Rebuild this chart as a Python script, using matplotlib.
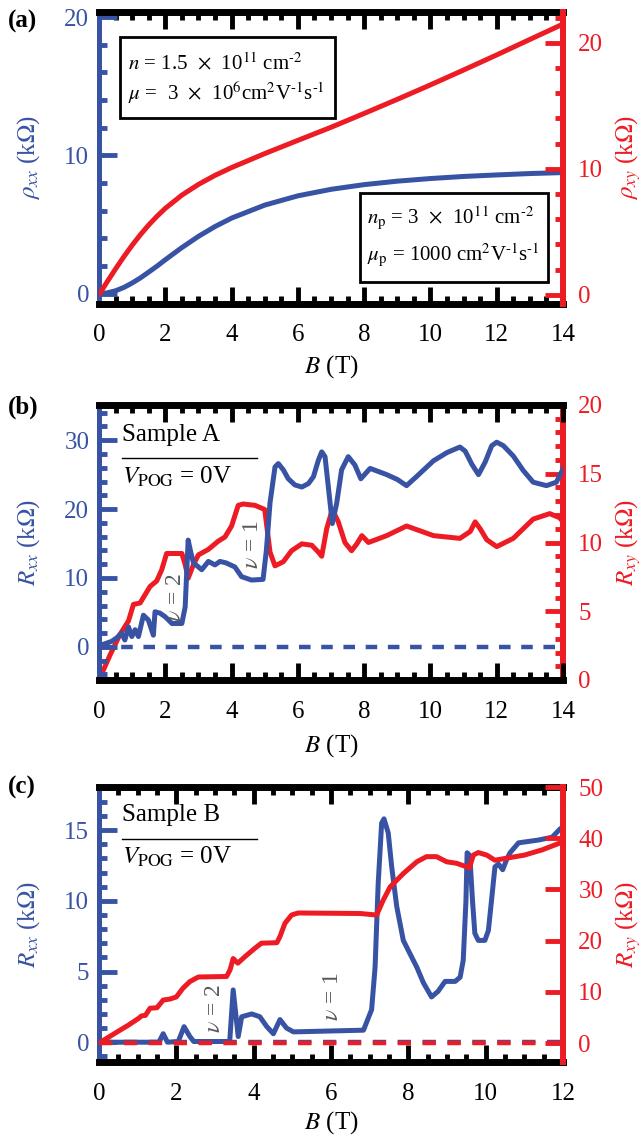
import matplotlib
matplotlib.use("Agg")
import matplotlib.pyplot as plt
from matplotlib.ticker import MultipleLocator, NullLocator
from matplotlib.patches import Rectangle
from matplotlib.lines import Line2D

plt.rcParams['font.family'] = ['Liberation Serif', 'DejaVu Serif']
plt.rcParams['mathtext.fontset'] = 'stix'

BLUE = '#3953a4'
RED = '#ed1c24'
GRAY = '#5a5a5a'

# ---------------- data ----------------
# (a) two-carrier curves
B_a = [0, 0.25, 0.5, 0.75, 1, 1.25, 1.5, 1.75, 2, 2.5, 3, 3.5, 4, 5, 6, 7, 8, 9, 10, 11, 12, 13, 14]
rhoxx_a = [0, 0.07, 0.22, 0.46, 0.78, 1.15, 1.57, 2.0, 2.46, 3.34, 4.15, 4.86, 5.47, 6.41, 7.08,
           7.55, 7.89, 8.14, 8.33, 8.48, 8.59, 8.69, 8.76]
rhoxy_a = [0, 1.04, 2.05, 3.02, 3.93, 4.77, 5.54, 6.23, 6.86, 7.91, 8.76, 9.48, 10.1, 11.21, 12.26,
           13.3, 14.4, 15.52, 16.67, 17.85, 19.05, 20.28, 21.5]

# (b) Sample A
B_b_xx = [0, 0.08, 0.38, 0.53, 0.68, 0.78, 0.89, 0.99, 1.09, 1.19, 1.34, 1.49, 1.64, 1.69, 1.84,
          1.99, 2.14, 2.2, 2.5, 2.6, 2.69, 2.78, 2.85, 3.1, 3.3, 3.5, 3.65, 3.83, 4.1, 4.3, 4.6,
          4.95, 5.05, 5.16, 5.31, 5.41, 5.56, 5.71, 5.91, 6.12, 6.32, 6.47, 6.62, 6.72, 6.82,
          6.92, 7.04, 7.17, 7.32, 7.52, 7.72, 7.9, 8.18, 8.68, 9.0, 9.28, 9.6, 10.09, 10.5,
          10.89, 11.05, 11.25, 11.45, 11.65, 11.85, 12.0, 12.2, 12.5, 12.8, 13.1, 13.5, 13.8, 14.0]
Rxx_b = [0, 0.3, 0.8, 1.3, 2.0, 1.0, 2.9, 1.5, 2.5, 1.5, 4.6, 3.9, 1.7, 5.1, 4.9,
         4.4, 3.7, 3.4, 3.4, 5.8, 15.5, 13.5, 12.2, 11.2, 12.4, 11.9, 12.4, 12.2, 11.6, 10.2, 9.7,
         9.8, 14.0, 20.9, 26.1, 26.6, 25.7, 24.4, 23.5, 23.2, 23.7, 24.7, 27.1, 28.3, 27.6,
         23.2, 17.9, 20.8, 25.7, 27.6, 26.4, 24.4, 25.9, 25.0, 24.3, 23.4, 24.8, 27.0, 28.2,
         29.0, 28.4, 26.5, 25.0, 26.8, 29.2, 29.7, 29.2, 27.7, 25.6, 23.9, 23.4, 23.9, 25.8]
B_b_xy = [0, 0.33, 0.63, 0.89, 1.04, 1.24, 1.39, 1.54, 1.74, 1.89, 2.04, 2.5, 2.6, 2.69, 2.85,
          3.0, 3.3, 3.6, 3.8, 4.0, 4.2, 4.35, 4.71, 5.0, 5.16, 5.31, 5.56, 5.81, 6.12, 6.42,
          6.62, 6.72, 6.87, 7.04, 7.22, 7.42, 7.62, 7.78, 7.93, 8.13, 8.68, 9.28, 10.09, 10.89,
          11.2, 11.35, 11.5, 11.7, 12.0, 12.5, 13.1, 13.6, 13.9, 14.0]
Rxy_b = [0, 1.8, 3.3, 4.3, 5.5, 5.6, 6.2, 6.8, 7.2, 8.0, 9.2, 9.2, 8.4, 7.4, 8.4,
         9.1, 9.5, 10.1, 10.4, 11.2, 12.7, 12.8, 12.7, 12.4, 9.3, 8.3, 8.6, 9.4, 9.9, 9.8,
         9.3, 9.0, 11.0, 12.4, 11.5, 10.0, 9.4, 9.9, 10.5, 10.0, 10.5, 11.2, 10.5, 10.3,
         10.8, 11.5, 11.0, 10.2, 9.7, 10.3, 11.7, 12.1, 11.8, 11.5]

# (c) Sample B
B_c_xx = [0, 1.55, 1.66, 1.77, 2.05, 2.2, 2.35, 2.45, 3.38, 3.47, 3.6, 3.69, 3.95, 4.16, 4.34,
          4.51, 4.68, 4.85, 5.03, 6.84, 7.05, 7.14, 7.22, 7.31, 7.37, 7.48, 7.57, 7.7, 7.87,
          8.09, 8.22, 8.39, 8.6, 8.77, 8.95, 9.21, 9.34, 9.42, 9.49, 9.52, 9.59, 9.66, 9.72,
          9.81, 9.98, 10.07, 10.15, 10.24, 10.33, 10.44, 10.54, 10.63, 10.85, 11.37, 11.72,
          11.93, 12.0]
Rxx_c = [0, 0.0, 0.6, 0.0, 0.05, 1.1, 0.4, 0.05, 0.05, 3.7, 0.4, 1.8, 2.0, 1.8, 1.1,
         0.6, 1.6, 1.0, 0.73, 0.85, 2.3, 5.3, 11.2, 15.5, 15.8, 14.8, 12.4, 9.6, 7.2,
         6.0, 5.3, 4.2, 3.2, 3.6, 4.3, 4.3, 4.6, 5.8, 10.0, 13.4, 13.2, 10.0, 7.7,
         7.2, 7.2, 7.9, 10.0, 12.4, 12.6, 12.2, 12.9, 13.4, 14.1, 14.3, 14.5,
         15.1, 15.2]
B_c_xy = [0, 0.41, 0.76, 1.02, 1.1, 1.2, 1.32, 1.5, 1.66, 1.84, 2.0, 2.17, 2.35, 2.57, 3.3,
          3.39, 3.47, 3.59, 3.78, 4.03, 4.2, 4.6, 4.68, 4.81, 4.98, 5.15, 6.75, 7.18, 7.35,
          7.53, 7.87, 8.22, 8.47, 8.73, 8.99, 9.25, 9.51, 9.58, 9.68, 9.81, 10.03, 10.24,
          10.54, 11.0, 11.45, 11.9, 12.0]
Rxy_c = [0, 1.9, 3.5, 4.8, 5.3, 5.4, 6.8, 6.9, 8.4, 8.6, 9.0, 10.7, 12.0, 12.9, 13.0,
         14.3, 16.5, 15.6, 16.9, 18.5, 19.5, 19.6, 20.8, 23.4, 25.0, 25.4, 25.3, 25.0, 27.9,
         30.5, 33.1, 35.4, 36.4, 36.4, 35.4, 35.1, 34.4, 34.2, 36.7, 37.2, 36.7, 35.7,
         36.1, 36.7, 37.7, 39.0, 39.2]

zero_b = [0, 14]
zero_c = [0, 12]

# ---------------- figure ----------------
W, H = 644, 1143
fig = plt.figure(figsize=(W / 100, H / 100), dpi=100)


def axes_px(left, top, right, bottom):
    return fig.add_axes([left / W, 1 - bottom / H, (right - left) / W, (bottom - top) / H])


LW = 3.6
FS = 18


def style(ax, ax2, xmax, ylim_l, lmaj, lmin, ylim_r, rmaj, rmin):
    ax.set_xlim(0, xmax)
    ax.set_ylim(*ylim_l)
    ax2.set_ylim(*ylim_r)
    ax.xaxis.set_major_locator(MultipleLocator(2))
    ax.xaxis.set_minor_locator(MultipleLocator(0.5))
    ax.yaxis.set_major_locator(MultipleLocator(lmaj))
    ax.yaxis.set_minor_locator(MultipleLocator(lmin))
    ax2.yaxis.set_major_locator(MultipleLocator(rmaj))
    if rmin:
        ax2.yaxis.set_minor_locator(MultipleLocator(rmin))
    else:
        ax2.yaxis.set_minor_locator(NullLocator())
    ax.tick_params(axis='x', which='major', direction='in', length=12, width=3.5,
                   top=True, bottom=True, labelsize=FS, pad=15, color='black')
    ax.tick_params(axis='x', which='minor', direction='in', length=6, width=3.5,
                   top=True, bottom=True, color='black')
    ax.tick_params(axis='y', which='major', direction='in', length=13, width=3.5,
                   left=True, right=False, colors=BLUE, labelsize=FS, pad=7)
    ax.tick_params(axis='y', which='minor', direction='in', length=6, width=3.5,
                   left=True, right=False, colors=BLUE)
    ax2.tick_params(axis='y', which='major', direction='in', length=13, width=3.5,
                    right=True, left=False, colors=RED, labelsize=FS, pad=11)
    ax2.tick_params(axis='y', which='minor', direction='in', length=6, width=3.5,
                    right=True, left=False, colors=RED)
    for s in ('top', 'bottom'):
        ax.spines[s].set_linewidth(5)
        ax.spines[s].set_color('black')
        ax2.spines[s].set_visible(False)
    ax.spines['right'].set_visible(False)
    ax.spines['left'].set_color(BLUE)
    ax.spines['left'].set_linewidth(3.6)
    ax2.spines['left'].set_visible(False)
    ax2.spines['right'].set_color(RED)
    ax2.spines['right'].set_linewidth(4.3)
    ax.set_xlabel(r'$B$ (T)', fontsize=FS)


def ylabels(ax, ax2, left_txt, right_txt):
    ax.set_ylabel(left_txt, color=BLUE, fontsize=FS)
    ax2.set_ylabel(right_txt, color=RED, fontsize=FS, rotation=90)
    ax.yaxis.set_label_coords(-0.123, 0.5)
    ax2.yaxis.set_label_coords(1.108, 0.5)


# ---------- (a) ----------
axa = axes_px(99, 11.5, 563, 303.5)
axa2 = axa.twinx()
style(axa, axa2, 14, (-0.7, 20.4), 10, 2, (-0.7, 22.5), 10, 2)
axa.plot(B_a, rhoxx_a, color=BLUE, lw=LW, solid_capstyle='round')
axa2.plot(B_a, rhoxy_a, color=RED, lw=LW, solid_capstyle='round')
ylabels(axa, axa2, r'$\rho_{xx}$ (k$\Omega$)', r'$\rho_{xy}$ (k$\Omega$)')
axa.xaxis.set_label_coords(0.5, -0.17)

BOXFS = 15
r1 = Rectangle((0.045, 0.635), 0.464, 0.278, transform=axa2.transAxes, facecolor='white',
               edgecolor='black', lw=2, zorder=10)
axa2.add_patch(r1)
axa2.text(0.062, 0.822, r'$n$ = 1.5  $\times$  10$^{11}$ cm$^{\text{-}2}$', transform=axa2.transAxes,
          fontsize=BOXFS, va='center', ha='left', zorder=11)
axa2.text(0.062, 0.722, r'$\mu$ =  3  $\times$  10$^{6}$cm$^{2}$V$^{\text{-}1}$s$^{\text{-}1}$',
          transform=axa2.transAxes, fontsize=BOXFS, va='center', ha='left', zorder=11)
r2 = Rectangle((0.5625, 0.074), 0.405, 0.304, transform=axa2.transAxes, facecolor='white',
               edgecolor='black', lw=2, zorder=10)
axa2.add_patch(r2)
axa2.text(0.578, 0.293, r'$n_{\rm p}$ = 3  $\times$  10$^{11}$ cm$^{\text{-}2}$', transform=axa2.transAxes,
          fontsize=BOXFS, va='center', ha='left', zorder=11)
axa2.text(0.578, 0.166, r'$\mu_{\rm p}$ = 1000 cm$^{2}$V$^{\text{-}1}$s$^{\text{-}1}$',
          transform=axa2.transAxes, fontsize=BOXFS, va='center', ha='left', zorder=11)

# ---------- (b) ----------
axb = axes_px(99, 405, 563, 680)
axb2 = axb.twinx()
style(axb, axb2, 14, (-4.8, 35.1), 10, 2, (0, 20), 5, 1)
axb.set_zorder(axb2.get_zorder() + 1)
axb.patch.set_visible(False)
axb.plot(zero_b, [0, 0], color=BLUE, lw=3.2, dashes=(2.6, 2.4))
axb.plot(B_b_xx, Rxx_b, color=BLUE, lw=LW, solid_joinstyle='round')
axb2.plot(B_b_xy, Rxy_b, color=RED, lw=LW, solid_joinstyle='round')
ylabels(axb, axb2, r'$R_{xx}$ (k$\Omega$)', r'$R_{xy}$ (k$\Omega$)')
axb.xaxis.set_label_coords(0.5, -0.19)
axb.text(0.05, 0.891, 'Sample A', transform=axb.transAxes, fontsize=FS, va='center', ha='left')
axb.add_line(Line2D([0.05, 0.34], [0.807, 0.807], transform=axb.transAxes, color='black', lw=1))
axb.text(0.05, 0.738, r'$V_{\rm POG}$ = 0V', transform=axb.transAxes, fontsize=FS, va='center', ha='left')
axb.text(2.3, 7.2, r'$\nu$ = 2', color=GRAY, fontsize=17, rotation=90, ha='center', va='center')
axb.text(4.62, 14.8, r'$\nu$ = 1', color=GRAY, fontsize=17, rotation=90, ha='center', va='center')

# ---------- (c) ----------
axc = axes_px(99, 787, 563, 1062)
axc2 = axc.twinx()
style(axc, axc2, 12, (-1.4, 18.05), 5, 1, (-3.7, 50), 10, None)
axc.plot(zero_c, [0, 0], color=BLUE, lw=3.2, dashes=(3.0, 2.6))
axc.plot(B_c_xx, Rxx_c, color=BLUE, lw=LW, solid_joinstyle='round')
axc2.plot(zero_c, [0, 0], color=RED, lw=3.2, dashes=(3.0, 2.6))
axc2.plot(B_c_xy, Rxy_c, color=RED, lw=LW, solid_joinstyle='round')
ylabels(axc, axc2, r'$R_{xx}$ (k$\Omega$)', r'$R_{xy}$ (k$\Omega$)')
axc.xaxis.set_label_coords(0.5, -0.17)
axc.text(0.05, 0.898, 'Sample B', transform=axc.transAxes, fontsize=FS, va='center', ha='left')
axc.add_line(Line2D([0.05, 0.34], [0.811, 0.811], transform=axc.transAxes, color='black', lw=1))
axc.text(0.05, 0.745, r'$V_{\rm POG}$ = 0V', transform=axc.transAxes, fontsize=FS, va='center', ha='left')
axc.text(3.0, 2.4, r'$\nu$ = 2', color=GRAY, fontsize=17, rotation=90, ha='center', va='center')
axc.text(6.05, 3.2, r'$\nu$ = 1', color=GRAY, fontsize=17, rotation=90, ha='center', va='center')

# panel letters
for lab, yp in (('(a)', 21), ('(b)', 407), ('(c)', 787)):
    fig.text(8 / W, 1 - yp / H, lab, fontsize=FS, fontweight='bold', va='center', ha='left')

fig.savefig('out.png', dpi=100)
